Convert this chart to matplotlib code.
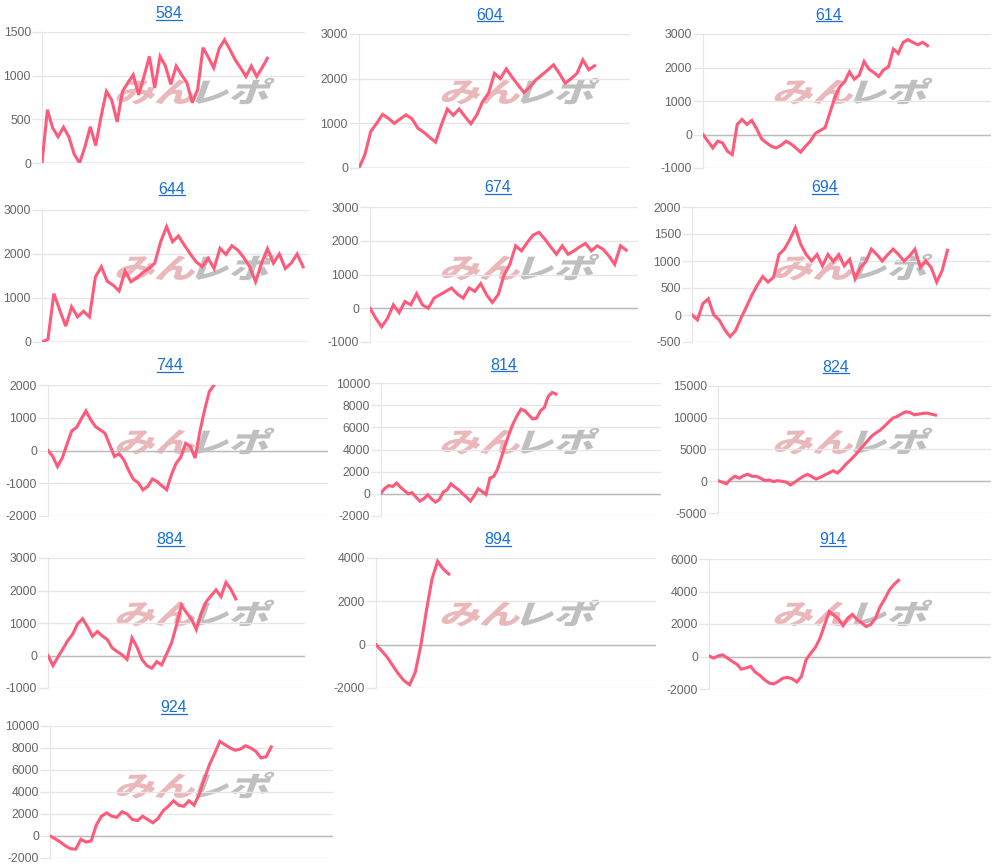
import matplotlib.pyplot as plt
from matplotlib.textpath import TextPath
from matplotlib.font_manager import FontProperties
from matplotlib.patches import PathPatch
from matplotlib.transforms import Affine2D, IdentityTransform
from matplotlib.lines import Line2D

plt.rcParams["axes.unicode_minus"] = False

# machine numbers (chart titles)
titles = ["584", "604", "614", "644", "674", "694", "744", "814", "824",
          "884", "894", "914", "924"]

# cumulative difference series
s584 = [0, 610, 400, 300, 410, 300, 100, 0, 185, 415, 200, 530, 820, 720, 470,
        820, 920, 1010, 780, 990, 1220, 860, 1220, 1110, 900, 1110, 1010, 920,
        690, 840, 1320, 1210, 1090, 1310, 1410, 1300, 1180, 1090, 990, 1110,
        990, 1090, 1200]
s604 = [0, 300, 820, 1000, 1200, 1110, 1000, 1100, 1190, 1100, 890, 800, 685,
        580, 970, 1320, 1180, 1320, 1150, 990, 1190, 1490, 1680, 2120, 2000,
        2220, 2030, 1860, 1690, 1810, 1970, 2080, 2190, 2310, 2120, 1900, 2000,
        2120, 2420, 2200, 2290]
s614 = [0, -200, -400, -200, -250, -500, -600, 300, 450, 300, 420, 170, -130,
        -250, -350, -400, -320, -200, -280, -400, -530, -350, -200, 30, 120,
        200, 650, 1100, 1420, 1570, 1870, 1650, 1770, 2180, 1950, 1850, 1730,
        1930, 2020, 2550, 2420, 2750, 2830, 2750, 2680, 2750, 2650]
s644 = [0, 60, 1100, 720, 360, 800, 570, 700, 570, 1480, 1710, 1380, 1290,
        1160, 1610, 1370, 1460, 1580, 1670, 1790, 2280, 2620, 2280, 2410, 2200,
        2000, 1820, 1710, 1900, 1670, 2130, 1990, 2190, 2090, 1920, 1710, 1370,
        1790, 2120, 1790, 2000, 1670, 1790, 2000, 1710]
s674 = [0, -300, -550, -300, 100, -130, 200, 100, 430, 100, 0, 300, 400, 500,
        600, 420, 300, 600, 500, 730, 400, 170, 400, 980, 1300, 1850, 1700,
        1950, 2170, 2250, 2050, 1820, 1600, 1850, 1600, 1700, 1820, 1920, 1700,
        1850, 1750, 1550, 1300, 1850, 1720]
s694 = [0, -90, 210, 300, 0, -90, -270, -400, -290, -60, 150, 365, 550, 710,
        610, 700, 1120, 1220, 1400, 1615, 1310, 1120, 1000, 1120, 910, 1120,
        990, 1120, 910, 1030, 670, 880, 990, 1220, 1120, 1000, 1120, 1220, 1120,
        1000, 1090, 1220, 880, 1000, 880, 610, 820, 1200]
s744 = [0, -180, -490, -230, 190, 600, 700, 960, 1210, 940, 730, 630, 530, 170,
        -180, -100, -290, -610, -880, -980, -1200, -1100, -870, -950, -1080,
        -1200, -740, -390, -200, 220, 120, -230, 580, 1240, 1800, 2000]
s814 = [60, 500, 750, 660, 970, 600, 300, 0, 100, -300, -660, -450, -90, -450,
        -750, -510, 150, 360, 910, 600, 360, 0, -300, -660, -150, 450, 210, -60,
        1420, 1570, 2270, 3330, 4450, 5450, 6360, 7060, 7640, 7490, 7120, 6760,
        6820, 7490, 7790, 8790, 9150, 9000]
s824 = [100, -150, -400, 350, 780, 470, 880, 1090, 780, 780, 470, 100, 200, -50,
        100, 0, -150, -570, -150, 350, 780, 1090, 720, 350, 620, 980, 1300, 1660,
        1300, 1920, 2700, 3320, 4000, 4770, 5540, 6320, 7100, 7600, 8050, 8650,
        9330, 9950, 10200, 10600, 10940, 10830, 10470, 10570, 10680, 10730,
        10570, 10420]
s884 = [0, -310, -50, 200, 460, 660, 980, 1130, 880, 590, 740, 600, 490, 230,
        120, 20, -120, 540, 260, -120, -310, -390, -190, -290, 50, 390, 930,
        1550, 1320, 1130, 800, 1290, 1650, 1840, 2020, 1810, 2250, 2040, 1740]
s894 = [0, -280, -580, -970, -1350, -1660, -1850, -1280, -50, 1570, 3030, 3850,
        3490, 3260]
s914 = [40, -100, 40, 100, -100, -300, -470, -780, -710, -610, -960, -1160,
        -1430, -1630, -1690, -1530, -1330, -1290, -1370, -1570, -1220, -200, 200,
        550, 1120, 1940, 2760, 2550, 2310, 1900, 2350, 2590, 2290, 2080, 1840,
        1980, 2350, 3060, 3530, 4080, 4430, 4690]
s924 = [0, -250, -550, -900, -1150, -1200, -300, -550, -450, 1000, 1800, 2100,
        1800, 1700, 2200, 2000, 1500, 1400, 1800, 1500, 1200, 1600, 2300, 2700,
        3200, 2800, 2700, 3200, 2800, 3800, 5200, 6500, 7500, 8600, 8300, 8000,
        7800, 7900, 8200, 8000, 7700, 7100, 7200, 8100]
series = [s584, s604, s614, s644, s674, s694, s744, s814, s824,
          s884, s894, s914, s924]

# number of x categories on each chart's axis
slots = [50, 47, 60, 46, 47, 56, 60, 73, 65, 53, 51, 62, 56]

# y axis range and tick step
y_min = [0, 0, -1000, 0, -1000, -500, -2000, -2000, -5000, -1000, -2000, -2000, -2000]
y_max = [1500, 3000, 3000, 3000, 3000, 2000, 2000, 10000, 15000, 3000, 4000, 6000, 10000]
y_step = [500, 1000, 1000, 1000, 1000, 500, 1000, 2000, 5000, 1000, 2000, 2000, 2000]

# layout in pixels: plot box (left, top, right, bottom) and title centre
W, H = 999, 868
boxes = [(42, 32, 305, 163), (359, 34, 630, 168), (703, 34, 991, 168),
         (42, 210, 309, 342), (370, 207, 638, 342), (692, 207, 991, 342),
         (48, 385, 328, 516), (381, 383, 661, 516), (718, 386, 991, 513),
         (48, 558, 305, 688), (376, 558, 656, 688), (709, 559, 991, 689),
         (50, 726, 333, 858)]
title_pos = [(169, 14), (490, 15), (829, 15), (172, 189), (498, 188), (825, 188),
             (170, 366), (504, 365), (836, 368), (170, 540), (498, 540),
             (833, 540), (174, 708)]
logo_cols = [190, 515, 848]
logo_rows = [90, 266, 440, 612, 784]

fig = plt.figure(figsize=(W / 100, H / 100), dpi=100)

grid_c = "#e6e6e6"
line_c = "#ff5a7a"
title_c = "#1a6fd6"
tfont = "Liberation Sans"

# watermark logo
fp = FontProperties(family="Noto Sans CJK JP", weight="heavy")


def add_logo(cx, cy):
    p1 = TextPath((0, 0), "みん", size=36, prop=fp)
    p2 = TextPath((0, 0), "レポ", size=36, prop=fp)
    e1 = p1.get_extents()
    e2 = p2.get_extents()
    sx, sy = 1.12, 0.78
    gap = 2
    w1 = e1.x1 * sx
    total = w1 + gap + e2.width * sx
    hgt = max(e1.y1, e2.y1) * sy
    x0 = cx - total / 2
    y0 = (H - cy) - hgt / 2
    t1 = Affine2D().scale(sx, sy).skew_deg(20, 0).translate(x0, y0)
    t2 = (Affine2D().translate(-e2.x0, 0).scale(sx, sy).skew_deg(20, 0)
          .translate(x0 + w1 + gap, y0))
    for path, tr, col in [(p1, t1, "#eab7bb"), (p2, t2, "#bfbfbf")]:
        patch = PathPatch(tr.transform_path(path), facecolor=col, edgecolor="none",
                          transform=IdentityTransform(), zorder=-1)
        fig.add_artist(patch)


for i in range(len(titles)):
    r, c = divmod(i, 3)
    add_logo(logo_cols[c], logo_rows[r])

text_objs = []
for i, name in enumerate(titles):
    l, t, r, b = boxes[i]
    ax = fig.add_axes([l / W, 1 - b / H, (r - l) / W, (b - t) / H])
    ax.set_facecolor("none")
    vals = series[i]
    ax.plot(range(len(vals)), vals, color=line_c, lw=2.2, solid_joinstyle="miter",
            zorder=3)
    ax.set_xlim(0, slots[i] - 1)
    ax.set_ylim(y_min[i], y_max[i])
    ax.set_yticks(range(y_min[i], y_max[i] + 1, y_step[i]))
    ax.set_xticks([])
    ax.grid(axis="y", color=grid_c, lw=1)
    ax.axhline(0, color="#bbbbbb", lw=1, zorder=2)
    for s in ["top", "right", "bottom"]:
        ax.spines[s].set_visible(False)
    ax.spines["left"].set_color(grid_c)
    ax.tick_params(axis="y", length=7, width=1, color=grid_c, pad=1,
                   labelsize=8.8, labelcolor="#666666")
    for lab in ax.get_yticklabels():
        lab.set_fontfamily(tfont)
    tx, ty = title_pos[i]
    text_objs.append(fig.text(tx / W, 1 - ty / H, name, ha="center", va="center",
                              color=title_c, fontsize=11.5, family=tfont))

# underline the titles like links
fig.canvas.draw()
renderer = fig.canvas.get_renderer()
for t in text_objs:
    bb = t.get_window_extent(renderer)
    fig.add_artist(Line2D([bb.x0, bb.x1], [bb.y0 + 2, bb.y0 + 2], color=title_c,
                          lw=0.9, transform=IdentityTransform()))

fig.savefig("out.png", dpi=100)
